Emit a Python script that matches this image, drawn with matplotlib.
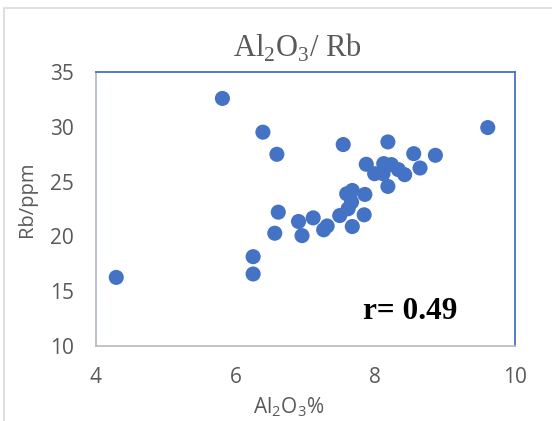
import matplotlib
matplotlib.use("Agg")
import matplotlib.pyplot as plt
from matplotlib.patches import Rectangle

# Al2O3 (%) vs Rb (ppm)
al2o3 = [4.29, 5.81, 6.39, 6.59, 6.61, 6.56, 6.25, 6.25, 6.90, 6.95,
         7.11, 7.26, 7.31, 7.49, 7.54, 7.67, 7.59, 7.67, 7.66, 7.61,
         7.84, 7.85, 7.87, 7.99, 8.11, 8.12, 8.18, 8.18, 8.23, 8.33,
         8.42, 8.55, 8.64, 8.86, 9.61]
rb = [16.26, 32.59, 29.51, 27.49, 22.21, 20.29, 18.15, 16.57, 21.36, 20.07,
      21.69, 20.60, 20.95, 21.90, 28.38, 20.90, 23.89, 24.19, 23.13, 22.52,
      21.97, 23.83, 26.58, 25.72, 25.72, 26.64, 28.62, 24.56, 26.55, 26.09,
      25.63, 27.55, 26.24, 27.40, 29.93]

x_ticks = [4, 6, 8, 10]
y_ticks = [10, 15, 20, 25, 30, 35]

blue = "#4472C4"
grey_txt = "#595959"

fig = plt.figure(figsize=(5.52, 4.21), dpi=100)
ax = fig.add_axes([96 / 552, 1 - 346 / 421, 419 / 552, 274 / 421])

# chart area border (light grey)
fig.patches.append(Rectangle((4 / 552, -0.2), 1.2, 1.2 - 8 / 421,
                             transform=fig.transFigure, fill=False,
                             edgecolor="#D9D9D9", lw=1.2))

ax.scatter(al2o3, rb, s=118, color=blue, edgecolors="none", zorder=3)

ax.set_xlim(4, 10)
ax.set_ylim(10, 35)
ax.set_xticks(x_ticks)
ax.set_yticks(y_ticks)
ax.tick_params(length=0, labelsize=15, labelcolor=grey_txt)
ax.tick_params(axis="y", pad=16)
ax.tick_params(axis="x", pad=15)
for lab in ax.get_xticklabels() + ax.get_yticklabels():
    lab.set_fontfamily("Open Sans")

ax.spines["top"].set_color(blue)
ax.spines["right"].set_color(blue)
ax.spines["left"].set_color("#B4BCCB")
ax.spines["bottom"].set_color("#BFBFBF")
for s in ax.spines.values():
    s.set_linewidth(1.3)

ax.set_xlabel(r"Al$_\mathregular{2}$O$_\mathregular{3}$%", fontsize=15,
              color=grey_txt, family="Open Sans", va="center")
ax.xaxis.set_label_coords(0.46, -0.223)
ax.set_ylabel("Rb/ppm", fontsize=14.5, color=grey_txt, family="Open Sans",
              va="center")
ax.yaxis.set_label_coords(-0.165, 0.535)

ax.text(0.48, 1.056, r"Al$_\mathregular{2}$O$_\mathregular{3}$/ Rb",
        transform=ax.transAxes, ha="center", va="baseline", fontsize=22,
        color=grey_txt, family="Liberation Serif")

ax.text(7.82, 12.47, "r= 0.49", fontsize=22.5, fontweight="bold",
        family="Liberation Serif", color="black", va="baseline")

fig.savefig("out.png", dpi=100)
